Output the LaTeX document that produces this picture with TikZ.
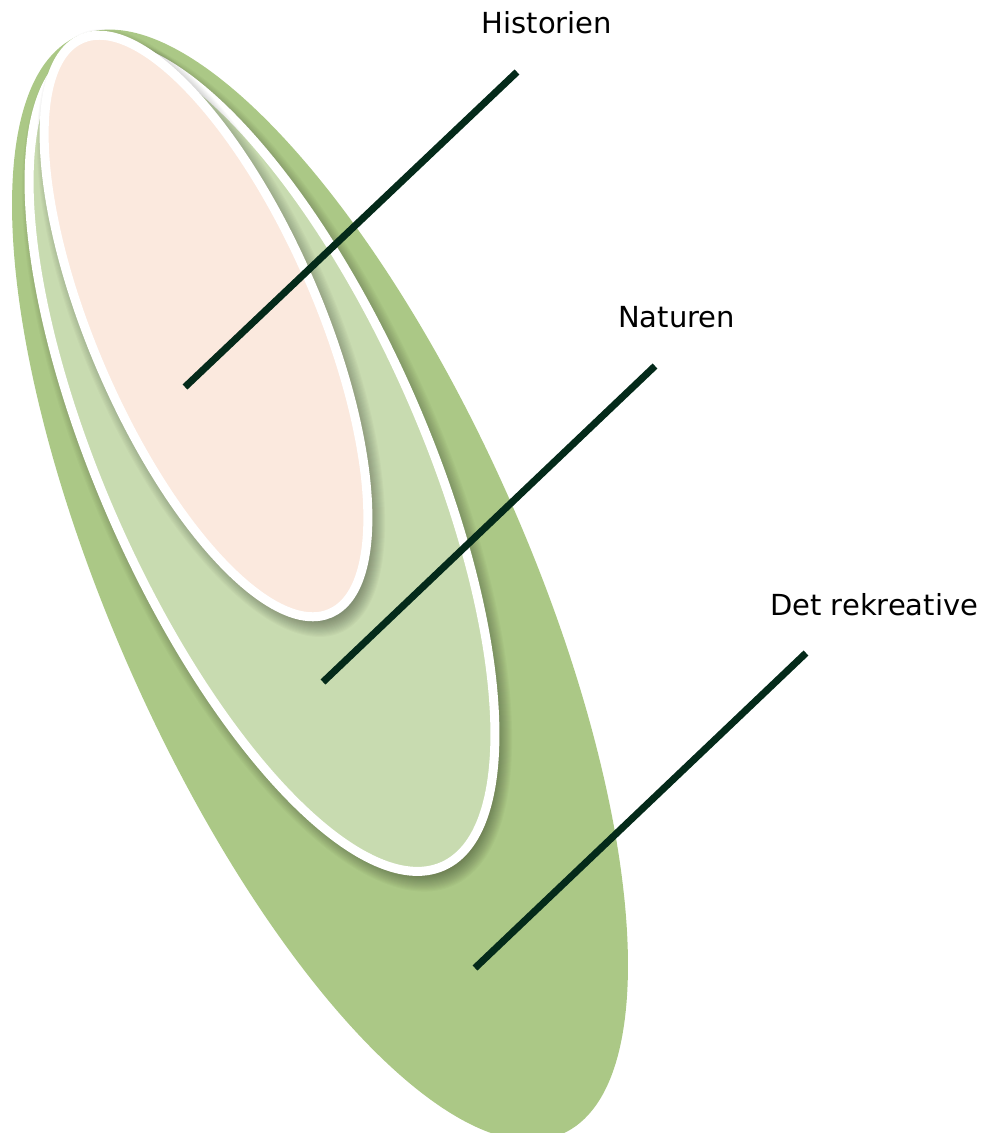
\documentclass[tikz,border=0pt]{standalone}
\usepackage{fontspec}
\setmainfont{DejaVu Sans}
\definecolor{outergreen}{HTML}{ABC886}
\definecolor{midgreen}{HTML}{C8DBB0}
\definecolor{peach}{HTML}{FBE9DE}
\definecolor{leader}{HTML}{042A1A}
\tikzset{
  ring/.style={draw=white, line width=9},
  leaderline/.style={draw=leader, line width=7, line cap=butt},
  label/.style={anchor=base west, inner sep=0, font=\fontsize{29}{34}\selectfont, text=black},
  shadowlayer/.style={fill=black, fill opacity=0.022}
}
\newcommand{\softshade}[5]{% cx, cy, a, b, angle
  \foreach \i in {0,...,16}{
    \pgfmathsetmacro{\ra}{#3-4+1.1*\i}
    \pgfmathsetmacro{\rb}{#4-4+1.1*\i}
    \fill[shadowlayer, rotate around={#5:(#1+5,#2-7)}] (#1+5,#2-7) ellipse [x radius=\ra, y radius=\rb];
  }
}
\begin{document}
\begin{tikzpicture}[x=1pt,y=1pt]
\useasboundingbox (0,0) rectangle (982,-1133);
% outer shape
\fill[outergreen, rotate around={-66.2:(320,-585)}] (320,-585) ellipse [x radius=600, y radius=208];
% middle shape
\softshade{262}{-458}{446.5}{160.5}{-66.1}
\path[fill=midgreen, ring, rotate around={-66.1:(262,-458)}] (262,-458) ellipse [x radius=446.5, y radius=160.5];
% inner shape
\softshade{206}{-326}{313}{113}{-66.6}
\path[fill=peach, ring, rotate around={-66.6:(206,-326)}] (206,-326) ellipse [x radius=313, y radius=113];
% leader coordinates
\coordinate (h1) at (185,-387);
\coordinate (h2) at (517,-72);
\coordinate (n1) at (323,-682);
\coordinate (n2) at (655,-366);
\coordinate (r1) at (475,-968);
\coordinate (r2) at (806,-653);
\draw[leaderline] (h1) -- (h2);
\draw[leaderline] (n1) -- (n2);
\draw[leaderline] (r1) -- (r2);
% labels
\node[label] (hist) at (481.5,-33) {Historien};
\node[label] (nat) at (618,-327) {Naturen};
\node[label] (rek) at (770,-615) {Det rekreative};
\end{tikzpicture}
\end{document}
